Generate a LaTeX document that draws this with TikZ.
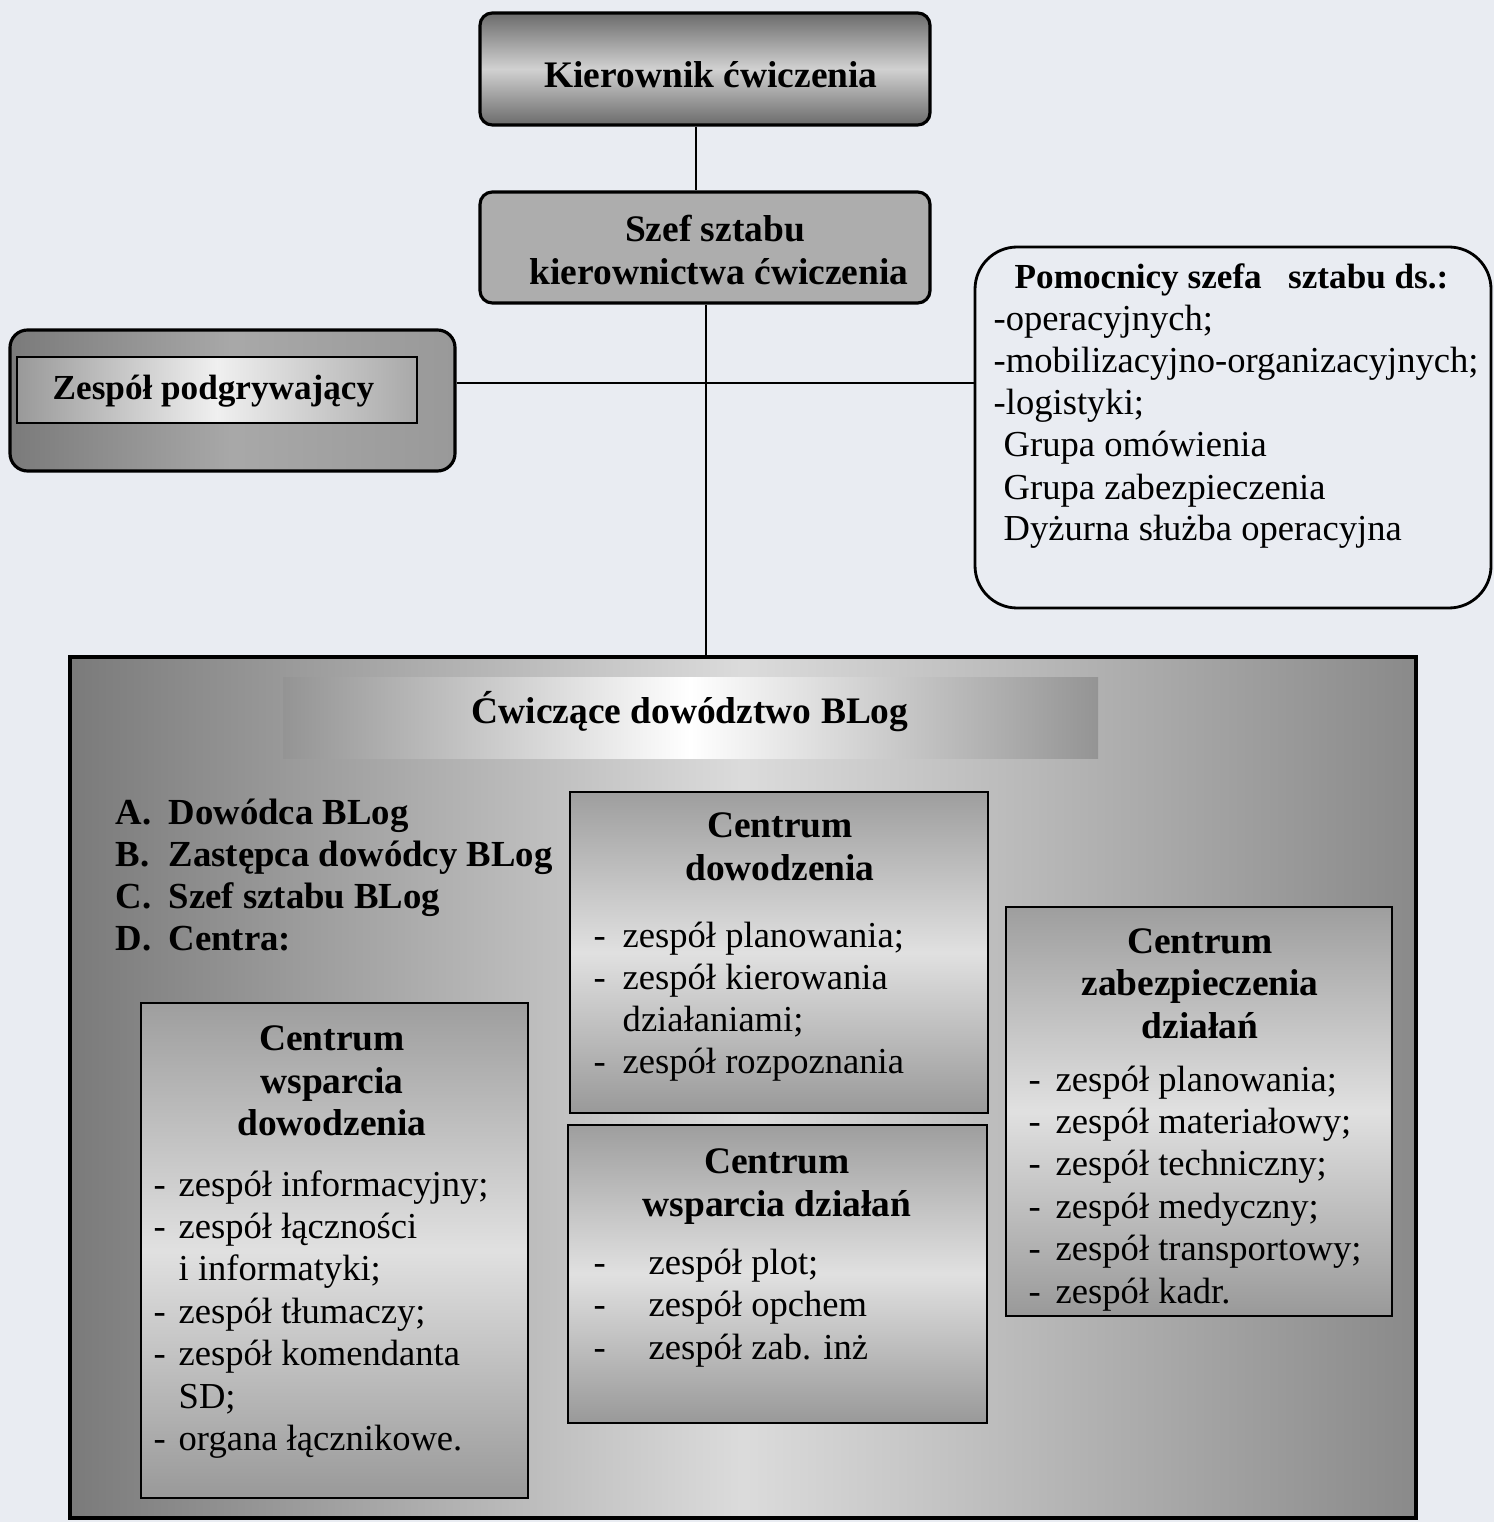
\documentclass[tikz,border=0pt]{standalone}
\usepackage{fontspec}
\setmainfont{Liberation Serif}
\usetikzlibrary{fit, positioning}
\definecolor{paper}{RGB}{233,236,242}

\tikzset{
  plain/.style={inner sep=0pt},
  centrum/.style={draw=black, line width=0.7pt, inner sep=0pt,
    top color=black!38, bottom color=black!40, middle color=black!12},
  head/.style={font={\fontsize{10.65}{12}\selectfont\bfseries}, anchor=base, inner sep=0pt},
  bold/.style={font={\fontsize{10.45}{12}\selectfont\bfseries}},
  item/.style={anchor=base west, inner sep=0pt},
  link/.style={line width=0.6pt},
}

\begin{document}
\begin{tikzpicture}[x=0.01cm, y=-0.01cm, font={\fontsize{10.4}{12}\selectfont}]
  % tło strony
  \fill[paper] (0,0) rectangle (1494,1522);
  \useasboundingbox (0,0) rectangle (1494,1522);

  % Kierownictwo ćwiczenia
  \node[fit={(480,13) (930,125)}, plain, draw, line width=0.9pt, rounded corners=3.5pt,
    top color=black!58, bottom color=black!58, middle color=black!18] (kier) {};
  \node[head] (kier-t) at (711,88) {Kierownik ćwiczenia};

  \node[fit={(480,192) (930,303)}, plain, draw, line width=0.9pt, rounded corners=3.5pt,
    fill=black!32] (szef) {};
  \node[head] (szef-t1) at (715,242) {Szef sztabu};
  \node[head] (szef-t2) at (719,285) {kierownictwa ćwiczenia};

  % Zespół podgrywający
  \node[fit={(10,330) (455,471)}, plain, draw, line width=0.9pt, rounded corners=5pt,
    left color=black!52, right color=black!40, middle color=black!34] (zespol) {};
  \node[fit={(17,357) (417,423)}, plain, draw, line width=0.6pt,
    left color=black!40, right color=black!34, middle color=black!6] (zespol-in) {};
  \node[item, font=\bfseries] (zespol-t) at (52,400) {Zespół podgrywający};

  % Pomocnicy szefa sztabu
  \node[fit={(975,247) (1491,608)}, plain, draw, line width=0.8pt, rounded corners=12pt,
    fill=paper] (pomoc) {};
  \node[item, font=\bfseries] (pomoc-t) at (1014,289) {Pomocnicy szefa~~~sztabu ds.:};
  \foreach \x/\t [count=\i] in {993/-operacyjnych;, 993/-mobilizacyjno-organizacyjnych;,
      993/-logistyki;, 1003/Grupa omówienia, 1003/Grupa zabezpieczenia,
      1003/Dyżurna służba operacyjna}
    \node[item] (pomoc-\i) at (\x,289+42*\i) {\t};

  % Ćwiczące dowództwo
  \node[fit={(70,657) (1416,1518)}, plain, draw, line width=1.4pt,
    left color=black!52, right color=black!46, middle color=black!14] (cwicz) {};
  \node[fit={(283,677) (1098,758)}, plain,
    left color=black!42, right color=black!42, middle color=white] (band) {};
  \node[head] (cwicz-t) at (690,723) {Ćwiczące dowództwo BLog};

  \foreach \l/\t [count=\i from 0] in {A./Dowódca BLog, B./Zastępca dowódcy BLog,
      C./Szef sztabu BLog, D./Centra:} {
    \node[item, bold] (abc-\i) at (115,824+42.2*\i) {\l};
    \node[item, bold] (abcd-\i) at (168,824+42.2*\i) {\t};
  }

  % Centrum dowodzenia
  \node[fit={(570,792) (988,1113)}, centrum] (cd) {};
  \node[head] (cd-t1) at (780,837) {Centrum};
  \node[head] (cd-t2) at (780,880) {dowodzenia};
  \foreach \d/\t [count=\i from 0] in {-/zespół planowania;, -/zespół kierowania,
      {}/działaniami;, -/zespół rozpoznania} {
    \node[item] (cd-d\i) at (593,947+42.3*\i) {\d};
    \node[item] (cd-\i) at (622,947+42.3*\i) {\t};
  }

  % Centrum wsparcia działań
  \node[fit={(568,1125) (987,1423)}, centrum] (cwd) {};
  \node[head] (cwd-t1) at (777,1173) {Centrum};
  \node[head] (cwd-t2) at (777,1216) {wsparcia działań};
  \foreach \t [count=\i from 0] in {zespół plot;, zespół opchem, zespół zab. inż} {
    \node[item] (cwd-d\i) at (593,1274+42.5*\i) {-};
    \node[item] (cwd-\i) at (648,1274+42.5*\i) {\t};
  }

  % Centrum wsparcia dowodzenia
  \node[fit={(141,1003) (528,1498)}, centrum] (cwdow) {};
  \node[head] (cwdow-t1) at (332,1050) {Centrum};
  \node[head] (cwdow-t2) at (332,1093) {wsparcia};
  \node[head] (cwdow-t3) at (332,1135) {dowodzenia};
  \foreach \d/\t [count=\i from 0] in {-/zespół informacyjny;, -/zespół łączności,
      {}/i informatyki;, -/zespół tłumaczy;, -/zespół komendanta, {}/SD;,
      -/organa łącznikowe.} {
    \node[item] (cwdow-d\i) at (153,1196+42.4*\i) {\d};
    \node[item] (cwdow-\i) at (178,1196+42.4*\i) {\t};
  }

  % Centrum zabezpieczenia działań
  \node[fit={(1006,907) (1392,1316)}, centrum] (czd) {};
  \node[head] (czd-t1) at (1200,953) {Centrum};
  \node[head] (czd-t2) at (1200,995) {zabezpieczenia};
  \node[head] (czd-t3) at (1200,1038) {działań};
  \foreach \t [count=\i from 0] in {zespół planowania;, zespół materiałowy;,
      zespół techniczny;, zespół medyczny;, zespół transportowy;, zespół kadr.} {
    \node[item] (czd-d\i) at (1028,1091+42.4*\i) {-};
    \node[item] (czd-\i) at (1055,1091+42.4*\i) {\t};
  }

  % połączenia
  \coordinate (up) at (696,0);
  \coordinate (hub) at (706,383);
  \draw[link] (kier.south -| up) -- (szef.north -| up);
  \draw[link] (szef.south -| hub) -- (cwicz.north -| hub);
  \draw[link] (zespol.east |- hub) -- (pomoc.west |- hub);
\end{tikzpicture}
\end{document}
